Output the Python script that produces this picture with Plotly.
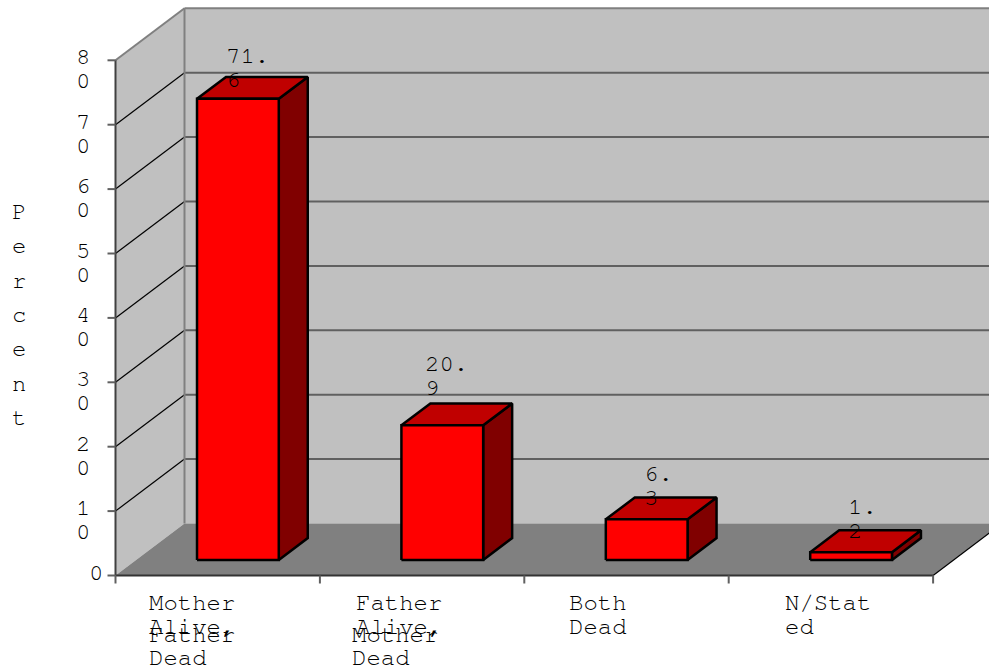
import plotly.graph_objects as go

# Survey results: orphanhood status of children, in percent
categories = ["Mother Alive, Father Dead", "Father Alive, Mother Dead", "Both Dead", "N/Stated"]
values = [71.6, 20.9, 6.3, 1.2]
value_labels = [["71.", "6"], ["20.", "9"], ["6.", "3"], ["1.", "2"]]
y_ticks = [0, 10, 20, 30, 40, 50, 60, 70, 80]
y_tick_labels = [["0"], ["1", "0"], ["2", "0"], ["3", "0"], ["4", "0"], ["5", "0"], ["6", "0"], ["7", "0"], ["8", "0"]]
axis_title = "Percent"

# Chart geometry, in screen pixels
W, H = 989, 668
X0, Y0 = 115.5, 575.5
CAT_PX = 204.4
VAL_PX = 6.44
DEPTH_DX, DEPTH_DY = 69.0, 52.0
N = len(categories)
BAR_LO, BAR_HI = 0.2975, 0.6975
DEPTH_LO, DEPTH_HI = 0.30, 0.72

FONT = "FreeMono, 'Liberation Mono', monospace"
FONT_SIZE = 24
TEXT = "#000000"


def project(cat, val, depth=0.0):
    """Oblique projection of (category, value, depth) on to the flat axes."""
    return cat + depth * DEPTH_DX / CAT_PX, val + depth * DEPTH_DY / VAL_PX


def poly(points, fill, line="rgba(0,0,0,0)", width=0):
    xs, ys = zip(*[project(*p) for p in points])
    return go.Scatter(
        x=list(xs) + [xs[0]], y=list(ys) + [ys[0]], mode="lines", fill="toself",
        fillcolor=fill, line=dict(color=line, width=width, simplify=False),
        hoverinfo="skip", showlegend=False,
    )


def seg(a, b, color, width):
    xs, ys = zip(project(*a), project(*b))
    return go.Scatter(
        x=list(xs), y=list(ys), mode="lines", line=dict(color=color, width=width),
        hoverinfo="skip", showlegend=False,
    )


fig = go.Figure()
TOP = y_ticks[-1]

# Walls and floor
fig.add_trace(poly([(0, 0, 0), (0, 0, 1), (0, TOP, 1), (0, TOP, 0)], "#c0c0c0"))
fig.add_trace(poly([(0, 0, 1), (N, 0, 1), (N, TOP, 1), (0, TOP, 1)], "#c0c0c0"))
fig.add_trace(poly([(0, 0, 0), (N, 0, 0), (N, 0, 1), (0, 0, 1)], "#808080"))

# Gridlines on the side and back walls
for t in y_ticks[1:-1]:
    fig.add_trace(seg((0, t, 0), (0, t, 1), "#000000", 1.2))
    fig.add_trace(seg((0, t, 1), (N, t, 1), "#606060", 2))
fig.add_trace(seg((0, TOP, 0), (0, TOP, 1), "#808080", 2))
fig.add_trace(seg((0, TOP, 1), (N, TOP, 1), "#808080", 2))
fig.add_trace(seg((0, 0, 1), (0, TOP, 1), "#808080", 2))
fig.add_trace(seg((N, 0, 0), (N, 0, 1), "#000000", 1.2))

# Axis lines and tick marks
fig.add_trace(seg((0, 0, 0), (0, TOP, 0), "#404040", 2))
fig.add_trace(seg((0, 0, 0), (N, 0, 0), "#333333", 2))
for t in y_ticks:
    fig.add_trace(seg((-8 / CAT_PX, t, 0), (0, t, 0), "#606060", 2))
for i in range(N + 1):
    fig.add_trace(seg((i, -8 / VAL_PX, 0), (i, 0, 0), "#606060", 2))

# Bars: side, top, front
for i, v in enumerate(values):
    lo, hi = i + BAR_LO, i + BAR_HI
    fig.add_trace(poly([(hi, 0, DEPTH_LO), (hi, 0, DEPTH_HI), (hi, v, DEPTH_HI), (hi, v, DEPTH_LO)],
                       "#800000", "#000000", 2.5))
    fig.add_trace(poly([(lo, v, DEPTH_LO), (hi, v, DEPTH_LO), (hi, v, DEPTH_HI), (lo, v, DEPTH_HI)],
                       "#c00000", "#000000", 2.5))
    fig.add_trace(poly([(lo, 0, DEPTH_LO), (hi, 0, DEPTH_LO), (hi, v, DEPTH_LO), (lo, v, DEPTH_LO)],
                       "#ff0000", "#000000", 2.5))


def px_to_data(px, py):
    return (px - X0) / CAT_PX, (Y0 - py) / VAL_PX


def label(px, py, text, anchor="left"):
    x, y = px_to_data(px, py)
    fig.add_annotation(
        x=x, y=y, text=text, showarrow=False, xanchor=anchor, yanchor="middle",
        borderpad=0, borderwidth=0, font=dict(family=FONT, size=FONT_SIZE, color=TEXT),
    )


# Value labels sit above the back edge of each bar's top face
label_dx = [28, 22.5, 37, 36.5]
label_dy = [3, -15, 1, 1]
for i, lines in enumerate(value_labels):
    bx, by = project(i + BAR_LO, values[i], DEPTH_HI)
    px, py = X0 + bx * CAT_PX - 27.5, Y0 - by * VAL_PX
    for k, line in enumerate(lines):
        label(px + label_dx[i], py + label_dy[i] + (k - 1) * 24, line)

# Value axis labels, wrapped digit by digit
for t, lines in zip(y_ticks, y_tick_labels):
    _, ty = project(0, t)
    py = Y0 - ty * VAL_PX
    left = 89 if len(lines) == 1 else 75.5
    for k, line in enumerate(lines):
        label(left, py - 3 + k * 24, line)

# Category labels wrapped into the narrow slots, colliding where the text runs long
category_lines = [
    [("Mother", 149, 603), ("Alive,", 149, 627), ("Father", 149, 635), ("Dead", 149, 658)],
    [("Father", 356, 603), ("Alive,", 356, 627), ("Mother", 351.5, 635), ("Dead", 351.5, 658)],
    [("Both", 569, 603), ("Dead", 569, 627)],
    [("N/Stat", 785, 603), ("ed", 785, 627)],
]
for lines in category_lines:
    for text, px, py in lines:
        label(px, py, text)

# Axis title, stacked letter by letter
for k, ch in enumerate(axis_title):
    label(18.5, 212 + k * 34.3, ch, anchor="center")

fig.update_layout(
    width=W, height=H, margin=dict(l=0, r=0, t=0, b=0, pad=0),
    paper_bgcolor="#ffffff", plot_bgcolor="#ffffff", showlegend=False,
    xaxis=dict(visible=False, range=[-X0 / CAT_PX, (W - X0) / CAT_PX], fixedrange=True),
    yaxis=dict(visible=False, range=[(Y0 - H) / VAL_PX, Y0 / VAL_PX], fixedrange=True),
)
fig.write_html("out.html", config=dict(displayModeBar=False))
